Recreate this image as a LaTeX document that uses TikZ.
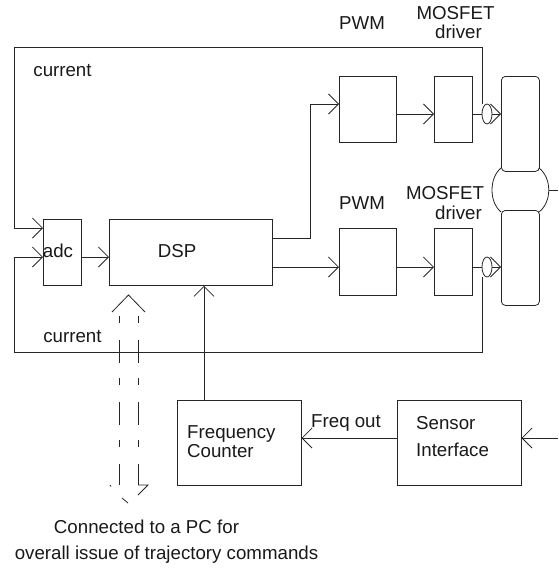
\documentclass[tikz,border=0pt]{standalone}
\usepackage{fontspec}
\setmainfont{Liberation Sans}
\usetikzlibrary{arrows.meta,positioning,calc,shapes.geometric}
\tikzset{
 line/.style={draw=black!85,line width=0.8pt},
 flow/.style={line,-{Straight Barb[length=10pt,width=20pt,line width=0.8pt]}},
 blockbox/.style={line,rectangle,inner sep=0pt,minimum width=#1,anchor=north west},
 armbox/.style={line,rectangle,rounded corners=4pt,inner sep=0pt,minimum width=38pt,minimum height=95pt,anchor=north west},
 sensorring/.style={line,ellipse,inner sep=0pt,minimum width=10pt,minimum height=20pt},
 lab/.style={inner sep=0pt,font=\fontsize{18.7}{19}\selectfont,text=black!90},
 pipe/.style={line,dash pattern=on 7pt off 17pt on 23pt off 15pt},
}
\begin{document}
\begin{tikzpicture}[x=1pt,y=-1pt]
\useasboundingbox (0,0) rectangle (558,568);
% blocks
\node[blockbox=38pt,minimum height=66pt] (adc) at (43,219) {};
\node[blockbox=163pt,minimum height=66pt] (dsp) at (109,219) {};
\node[blockbox=57pt,minimum height=66pt] (pwm1) at (339,76) {};
\node[blockbox=57pt,minimum height=67pt] (pwm2) at (339,228) {};
\node[blockbox=38pt,minimum height=66pt] (drv1) at (434,76) {};
\node[blockbox=38pt,minimum height=67pt] (drv2) at (434,228) {};
\node[blockbox=124pt,minimum height=85pt] (fc) at (176.7,400) {};
\node[blockbox=124pt,minimum height=85pt] (si) at (396.7,400) {};
% motor
\coordinate (hubTL) at (501,168); \coordinate (hubBL) at (501,212);
\coordinate (hubTR) at (539,168); \coordinate (hubBR) at (539,212);
\draw[line] (hubTL) .. controls (489,178) and (489,202) .. (hubBL);
\draw[line] (hubTR) .. controls (552,178) and (552,202) .. (hubBR);
\node[armbox] (arm1) at (501,76) {};
\node[armbox] (arm2) at (501,210) {};
\coordinate (out) at (558,190); \coordinate (hubR) at (549,190);
\draw[line] (hubR) -- (out);
% sensors
\node[sensorring] (s1) at (487,114) {};
\node[sensorring] (s2) at (487,267) {};
% connectors
\draw[flow] (adc.east |- 0,257) -- (dsp.west |- 0,257);
\draw[flow] (dsp.east |- 0,267) -- (pwm2.west |- 0,267);
\draw[flow] (dsp.east |- 0,238) -| (310,104) -- (pwm1.west |- 0,104);
\draw[flow] (pwm1.east |- 0,114) -- (drv1.west |- 0,114);
\draw[flow] (pwm2.east |- 0,267) -- (drv2.west |- 0,267);
\draw[line] (drv1.east |- s1.west) -- (s1.west);
\draw[line] (drv2.east |- s2.west) -- (s2.west);
\draw[flow] (s1.east) -- (s1.east -| arm1.west);
\draw[flow] (s2.east) -- (s2.east -| arm2.west);
\coordinate (tapT) at (482,104); \coordinate (tapB) at (482,277);
\draw[flow] (tapT) -- (482,47) -- (14,47) |- (adc.west |- 0,228);
\draw[flow] (tapB) -- (482,352) -- (14,352) |- (adc.west |- 0,257);
\draw[flow] (fc.north -| 204,0) -- (dsp.south -| 204,0);
\draw[flow] (si.west |- 0,438) -- (fc.east |- 0,438);
\coordinate (sin) at (558,438);
\draw[flow] (sin) -- (si.east |- sin);
% bus
\coordinate (b1t) at (119,316); \coordinate (b1b) at (119,485);
\coordinate (b2t) at (138,316); \coordinate (b2b) at (138,485);
\draw[pipe] (b1t) -- (b1b);
\draw[pipe] (b2t) -- (b2b);
\coordinate (tipT) at (128.5,295);
\draw[line] (112,312) -- (tipT) -- (145,312);
\draw[line] (b2b) -- (148,485) -- (138,495);
\draw[line] (110,485) -- (111,486.5);
\draw[line] (122,498) -- (128,503);
% labels
\node[lab] at (62.5,71) (l1) {current};
\node[lab] at (72.5,337) (l2) {current};
\node[lab] at (58,251) (l3) {adc};
\node[lab] at (177,251) (l4) {DSP};
\node[lab] at (362,23) (l5) {PWM};
\node[lab] at (362,203) (l6) {PWM};
\node[lab] at (455.5,13) (l7a) {MOSFET};
\node[lab] at (458.5,32) (l7b) {driver};
\node[lab] at (445,193) (l8a) {MOSFET};
\node[lab] at (458.5,213) (l8b) {driver};
\node[lab,align=left,anchor=west] at (187,441.5) (l9) {Frequency\\Counter};
\node[lab,anchor=west] at (311,423) (l10) {Freq out};
\node[lab,anchor=west] at (416,423) (l11) {Sensor};
\node[lab,anchor=west] at (416,450) (l12) {Interface};
\node[lab] at (146.5,527) (l13) {Connected to a PC for};
\node[lab] at (166.5,555) (l14) {overall issue of trajectory commands};
\end{tikzpicture}
\end{document}
